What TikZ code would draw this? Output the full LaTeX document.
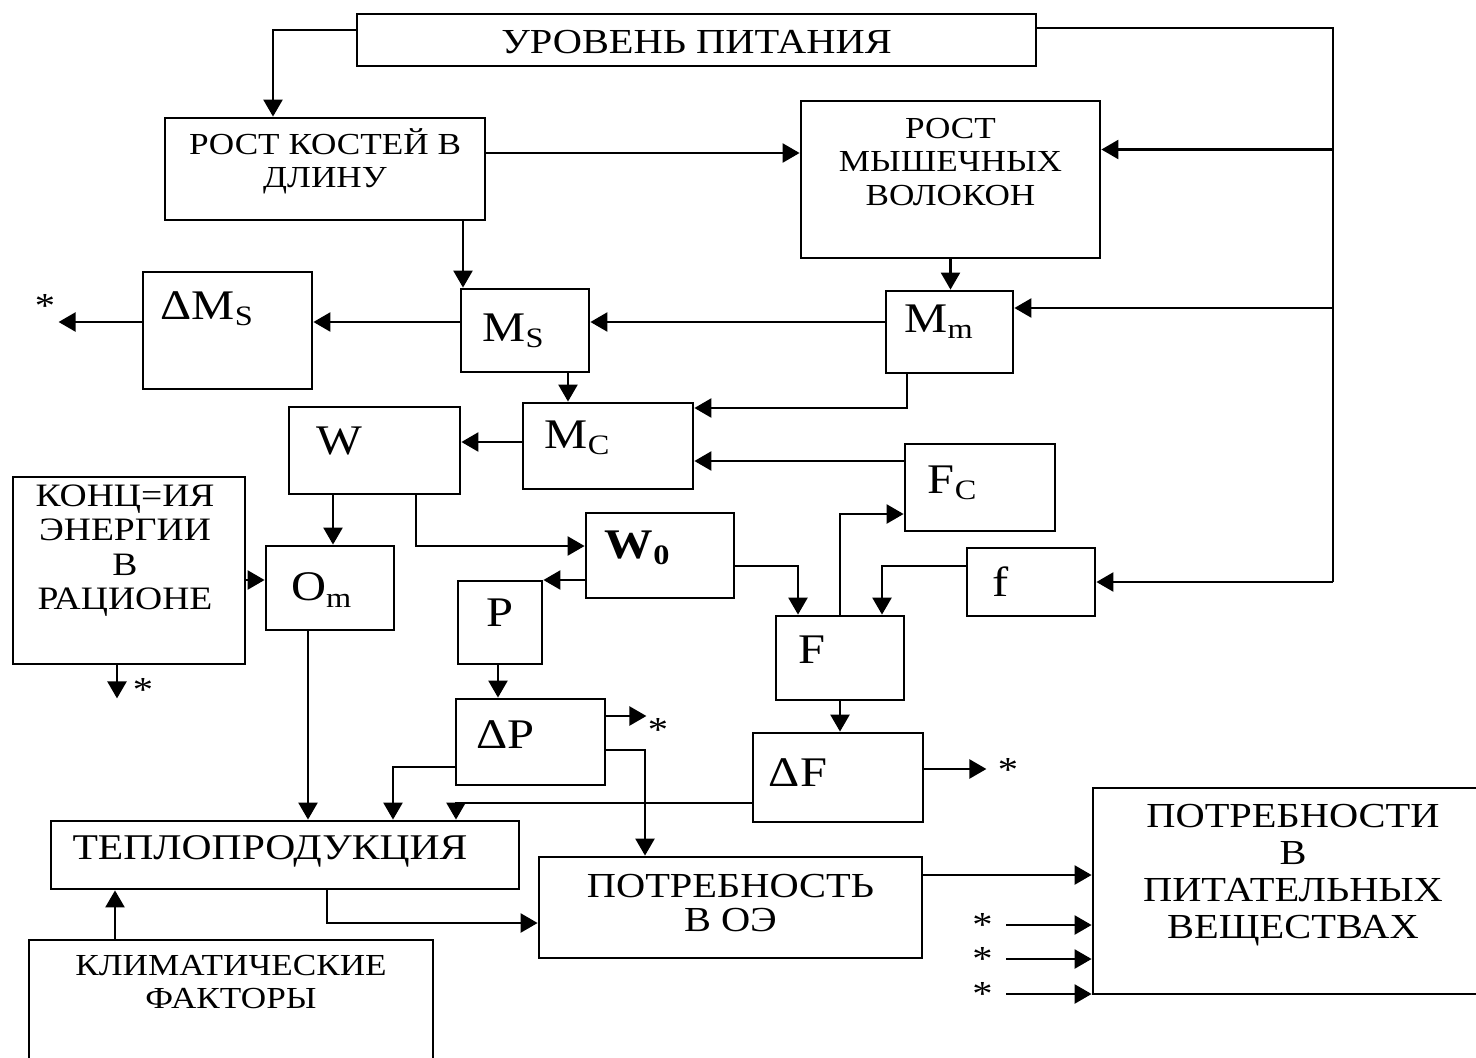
\documentclass[tikz,border=0pt]{standalone}
\usepackage{fontspec}
\setmainfont{Liberation Serif}[FakeStretch=1.15]
\usetikzlibrary{arrows.meta}

\tikzset{
  blk/.style={draw, line width=0.8pt, inner sep=0pt},
  every label/.style={align=center, inner sep=0pt},
  sym/.style={font=\large},
  smalltxt/.style={font=\fontsize{8.7}{9.5}\selectfont},
}

\begin{document}
\begin{tikzpicture}[x=0.1mm, y=-0.1mm, >={Triangle[length=1.7mm,width=1.9mm]}, line width=0.7pt, font=\fontsize{10}{9.8}\selectfont]
\useasboundingbox (0,0) rectangle (1476,1058);
% blocks
\node[blk, minimum width=67.9mm, minimum height=5.2mm, label={[yshift=-0.2mm]center:{УРОВЕНЬ ПИТАНИЯ}}] (lvl) at (696.5,40) {};
\node[blk, minimum width=32mm, minimum height=10.2mm, label={[smalltxt,yshift=0.8mm]center:{РОСТ КОСТЕЙ В\\ДЛИНУ}}] (bone) at (325,169) {};
\node[blk, minimum width=29.9mm, minimum height=15.7mm, label={[smalltxt,yshift=1.75mm]center:{РОСТ\\МЫШЕЧНЫХ\\ВОЛОКОН}}] (musc) at (950.5,179.5) {};
\node[blk, minimum width=12.8mm, minimum height=8.3mm, label={[sym,xshift=-1.1mm]center:{M\textsubscript{S}}}] (ms) at (525,330.5) {};
\node[blk, minimum width=16.9mm, minimum height=11.7mm, label={[sym,xshift=-2mm,yshift=2.2mm]center:{ΔM\textsubscript{S}}}] (dms) at (227.5,330.5) {};
\node[blk, minimum width=12.7mm, minimum height=8.2mm, label={[sym,xshift=-1mm,yshift=1mm]center:{M\textsubscript{m}}}] (mm) at (949.5,332) {};
\node[blk, minimum width=17mm, minimum height=8.6mm, label={[sym,xshift=-3mm,yshift=0.8mm]center:{M\textsubscript{C}}}] (mc) at (608,446) {};
\node[blk, minimum width=17.1mm, minimum height=8.7mm, label={[sym,xshift=-3.5mm,yshift=0.9mm]center:W}] (w) at (374.5,450.5) {};
\node[blk, minimum width=23.2mm, minimum height=18.7mm, label={[font=\fontsize{9.3}{9.8}\selectfont,xshift=-0.4mm,yshift=2mm]center:{КОНЦ=ИЯ\\ЭНЕРГИИ\\В\\РАЦИОНЕ}}] (konc) at (129,570.5) {};
\node[blk, minimum width=12.8mm, minimum height=8.4mm, label={[sym,xshift=-0.8mm,yshift=-0.2mm]center:{O\textsubscript{m}}}] (om) at (330,588) {};
\node[blk, minimum width=14.8mm, minimum height=8.5mm, label={[sym,xshift=-2.2mm,yshift=0.75mm]center:{\textbf{W\textsubscript{0}}}}] (wz) at (660,555.5) {};
\node[blk, minimum width=8.4mm, minimum height=8.3mm, label={[sym,yshift=1mm]center:P}] (p) at (500,622.5) {};
\node[blk, minimum width=14.9mm, minimum height=8.6mm, label={[sym,xshift=-2.5mm,yshift=0.7mm]center:{ΔP}}] (dp) at (530.5,742) {};
\node[blk, minimum width=15mm, minimum height=8.7mm, label={[sym,xshift=-2.7mm,yshift=0.5mm]center:{F\textsubscript{C}}}] (fc) at (980,487.5) {};
\node[blk, minimum width=12.8mm, minimum height=6.8mm, label={[sym,xshift=-3mm]center:f}] (sf) at (1031,582) {};
\node[blk, minimum width=12.8mm, minimum height=8.4mm, label={[sym,xshift=-2.8mm,yshift=0.8mm]center:F}] (fn) at (840,658) {};
\node[blk, minimum width=17mm, minimum height=8.9mm, label={[sym,xshift=-4mm,yshift=0.45mm]center:{ΔF}}] (dfn) at (838,777.5) {};
\node[blk, minimum width=46.8mm, minimum height=6.8mm, label={[font=\fontsize{10.3}{10}\selectfont,xshift=-1.5mm,yshift=0.4mm]center:{ТЕПЛОПРОДУКЦИЯ}}] (heat) at (285,855) {};
\node[blk, minimum width=40.4mm, minimum height=12.2mm, label={[smalltxt,yshift=1.9mm]center:{КЛИМАТИЧЕСКИЕ\\ФАКТОРЫ}}] (clim) at (231,1001) {};
\node[blk, minimum width=38.3mm, minimum height=10.1mm, label={[yshift=0.45mm]center:{ПОТРЕБНОСТЬ\\В ОЭ}}] (need) at (730.5,907.5) {};
\node[blk, minimum width=39.2mm, minimum height=20.6mm, label={[font=\fontsize{10}{10.5}\selectfont,xshift=0.4mm,yshift=1.6mm]center:{ПОТРЕБНОСТИ\\В\\ПИТАТЕЛЬНЫХ\\ВЕЩЕСТВАХ}}] (nutr) at (1289,891) {};
% stars
\node (st1) at (45,306) {*};
\node (st2) at (143,690) {*};
\node (st3) at (658,730) {*};
\node (st4) at (1008,770) {*};
% feeding rail
\coordinate (rail) at (1333,582);
\draw ([yshift=1.2mm]lvl.east) -| (rail);
\draw[->] ([yshift=1mm]lvl.west) -| ([xshift=-5.2mm]bone.north);
\draw[->] ([yshift=3mm]musc.east -| rail) -- ([yshift=3mm]musc.east);
\draw[->] ([yshift=2.4mm]mm.east -| rail) -- ([yshift=2.4mm]mm.east);
\draw[->] (rail) -- (sf.east);
% growth
\draw[->] ([yshift=1.6mm]bone.east) -- ([yshift=1.6mm]bone.east -| musc.west);
\draw[->] ([xshift=13.8mm]bone.south) -- ([xshift=13.8mm]bone.south |- ms.north);
\draw[->] (musc.south) -- (musc.south |- mm.north);
\draw[->] ([yshift=1mm]mm.west) -- ([yshift=1mm]mm.west -| ms.east);
\draw[->] ([yshift=0.85mm]ms.west) -- ([yshift=0.85mm]ms.west -| dms.east);
\draw[->] ([yshift=0.85mm]dms.west) -- +(-8.3mm,0);
\draw[->] ([xshift=4.3mm]ms.south) -- ([xshift=4.3mm]ms.south |- mc.north);
\draw[->] ([xshift=-4.25mm]mm.south) |- ([yshift=3.8mm]mc.east);
\draw[->] ([yshift=2.65mm]fc.west) -- ([yshift=2.65mm]fc.west -| mc.east);
\draw[->] ([yshift=0.4mm]mc.west) -- ([yshift=0.4mm]mc.west -| w.east);
\draw[->] ([xshift=-4.15mm]w.south) -- ([xshift=-4.15mm]w.south |- om.north);
\draw[->] ([xshift=4.15mm]w.south) |- ([yshift=0.95mm]wz.west);
\draw[->] ([yshift=-0.95mm]konc.east) -- ([yshift=-0.95mm]konc.east -| om.west);
\draw[->] ([xshift=-1.2mm]konc.south) -- +(0,-3.3mm);
\draw[->] ([yshift=-2.45mm]wz.west) -- ([yshift=-2.45mm]wz.west -| p.east);
% fat
\draw[->] ([yshift=-1.05mm]wz.east) -| ([xshift=-4.2mm]fn.north);
\draw[->] (fn.north) |- ([yshift=-2.65mm]fc.west);
\draw[->] ([yshift=1.6mm]sf.west) -| ([xshift=4.2mm]fn.north);
\draw[->] (fn.south) -- (fn.south |- dfn.north);
\draw[->] ([yshift=0.85mm]dfn.east) -- +(6.2mm,0);
\draw[->] ([xshift=-0.2mm]p.south) -- ([xshift=-0.2mm]p.south |- dp.north);
\draw[->] ([yshift=2.6mm]dp.east) -- +(4mm,0);
% energy
\draw[->] ([yshift=-0.8mm]dp.east) -| ([xshift=-8.55mm]need.north);
\draw[->] ([yshift=-2.5mm]dp.west) -| ([xshift=10.8mm]heat.north);
\draw[->] ([yshift=-2.55mm]dfn.west) -| ([xshift=17.1mm]heat.north);
\draw[->] ([xshift=-2.2mm]om.south) -- ([xshift=-2.2mm]om.south |- heat.north);
\draw[->] ([xshift=-11.6mm]clim.north) -- ([xshift=-11.6mm]clim.north |- heat.south);
\draw[->] ([xshift=4.2mm]heat.south) |- ([yshift=-1.55mm]need.west);
\draw[->] ([yshift=3.25mm]need.east) -- ([yshift=3.25mm]need.east -| nutr.west);
\foreach \dy/\n in {3.4/a,6.8/b,10.3/c}
  \draw[<-] ([yshift=-\dy mm]nutr.west) -- +(-8.6mm,0) node[left] (st\n) {*};
\end{tikzpicture}
\end{document}
